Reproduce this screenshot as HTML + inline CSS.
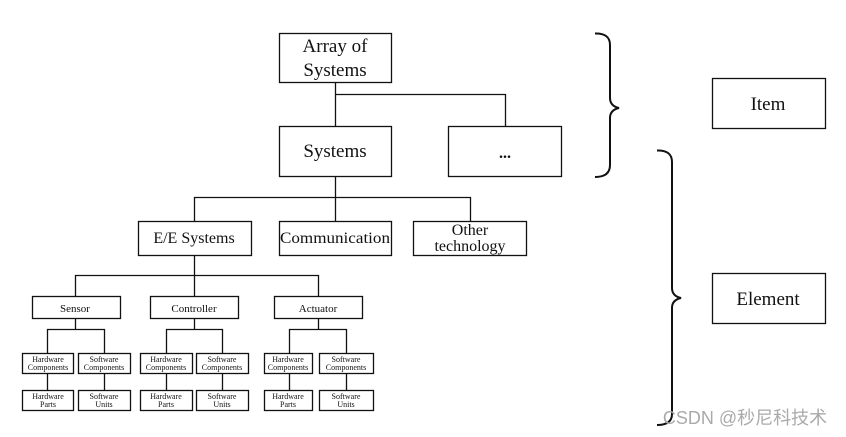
<!DOCTYPE html>
<html><head><meta charset="utf-8"><style>
html,body{margin:0;padding:0;background:#fff;width:846px;height:437px;overflow:hidden}
svg{display:block}
text{font-family:"Liberation Serif",serif;fill:#111;text-anchor:middle}
</style></head><body>
<svg width="846" height="437" viewBox="0 0 846 437" xmlns="http://www.w3.org/2000/svg">
<g fill="none" stroke="#111" stroke-width="1.3">
<rect x="279.5" y="33.5" width="112" height="49"/>
<rect x="279.5" y="126.5" width="112" height="50"/>
<rect x="448.5" y="126.5" width="113" height="50"/>
<path d="M335.5 83V126M335.5 94.5H505.5V126"/>
<path d="M335.5 177V197.5M194.5 221V197.5H470.5V221M335.5 197.5V221"/>
<rect x="138.5" y="221.5" width="113" height="34"/>
<rect x="279.5" y="221.5" width="112" height="34"/>
<rect x="413.5" y="221.5" width="113" height="34"/>
<path d="M194.5 256V275.5M75.5 296V275.5H318.5V296M194.5 275.5V296"/>
<rect x="32.5" y="296.5" width="88" height="22"/>
<rect x="150.5" y="296.5" width="88" height="22"/>
<rect x="274.5" y="296.5" width="88" height="22"/>
<path d="M75.5 319V329.5M47.5 353V329.5H104.5V353M47.5 373V390M104.5 373V390"/>
<rect x="22.5" y="353.5" width="51" height="20"/><rect x="78.5" y="353.5" width="52" height="20"/>
<rect x="22.5" y="390.5" width="51" height="20"/><rect x="78.5" y="390.5" width="52" height="20"/>
<path d="M194.5 319V329.5M166.5 353V329.5H222.5V353M166.5 373V390M222.5 373V390"/>
<rect x="140.5" y="353.5" width="52" height="20"/><rect x="196.5" y="353.5" width="52" height="20"/>
<rect x="140.5" y="390.5" width="52" height="20"/><rect x="196.5" y="390.5" width="52" height="20"/>
<path d="M318.5 319V329.5M289.5 353V329.5H346.5V353M289.5 373V390M346.5 373V390"/>
<rect x="264.5" y="353.5" width="48" height="20"/><rect x="319.5" y="353.5" width="54" height="20"/>
<rect x="264.5" y="390.5" width="48" height="20"/><rect x="319.5" y="390.5" width="54" height="20"/>
<rect x="712.5" y="78.5" width="113" height="50"/>
<rect x="712.5" y="273.5" width="113" height="50"/>
<path stroke-width="2" d="M595 33.5Q610 33 610 45V98Q610 106 619 108Q610 110 610 118V165Q610 177 595 177"/>
<path stroke-width="2" d="M657 150.5Q672 150 672 162V288Q672 296 681 298Q672 300 672 308V414Q672 425 657 425"/>
</g>
<text x="335" y="52" font-size="19">Array of</text>
<text x="335" y="76" font-size="19">Systems</text>
<text x="335" y="157" font-size="19">Systems</text>
<text x="505" y="158" font-size="16" font-weight="bold">...</text>
<text x="194" y="243" font-size="16">E/E Systems</text>
<text x="335" y="243" font-size="16" textLength="110" lengthAdjust="spacingAndGlyphs">Communication</text>
<text x="470" y="235" font-size="16">Other</text>
<text x="470" y="251" font-size="16">technology</text>
<text x="75" y="312" font-size="11">Sensor</text>
<text x="194" y="312" font-size="11">Controller</text>
<text x="318" y="312" font-size="11">Actuator</text>
<g font-size="8">
<text x="48" y="362">Hardware</text><text x="48" y="370">Components</text>
<text x="104" y="362">Software</text><text x="104" y="370">Components</text>
<text x="48" y="399">Hardware</text><text x="48" y="407">Parts</text>
<text x="104" y="399">Software</text><text x="104" y="407">Units</text>
<text x="166" y="362">Hardware</text><text x="166" y="370">Components</text>
<text x="222" y="362">Software</text><text x="222" y="370">Components</text>
<text x="166" y="399">Hardware</text><text x="166" y="407">Parts</text>
<text x="222" y="399">Software</text><text x="222" y="407">Units</text>
<text x="288" y="362">Hardware</text><text x="288" y="370">Components</text>
<text x="346" y="362">Software</text><text x="346" y="370">Components</text>
<text x="288" y="399">Hardware</text><text x="288" y="407">Parts</text>
<text x="346" y="399">Software</text><text x="346" y="407">Units</text>
</g>
<text x="768" y="110" font-size="19">Item</text>
<text x="768" y="305" font-size="19">Element</text>
<text x="745" y="424" font-size="18" style="font-family:'Liberation Sans','Noto Sans CJK SC',sans-serif;fill:#aaa">CSDN @秒尼科技术</text>
</svg>
</body></html>
